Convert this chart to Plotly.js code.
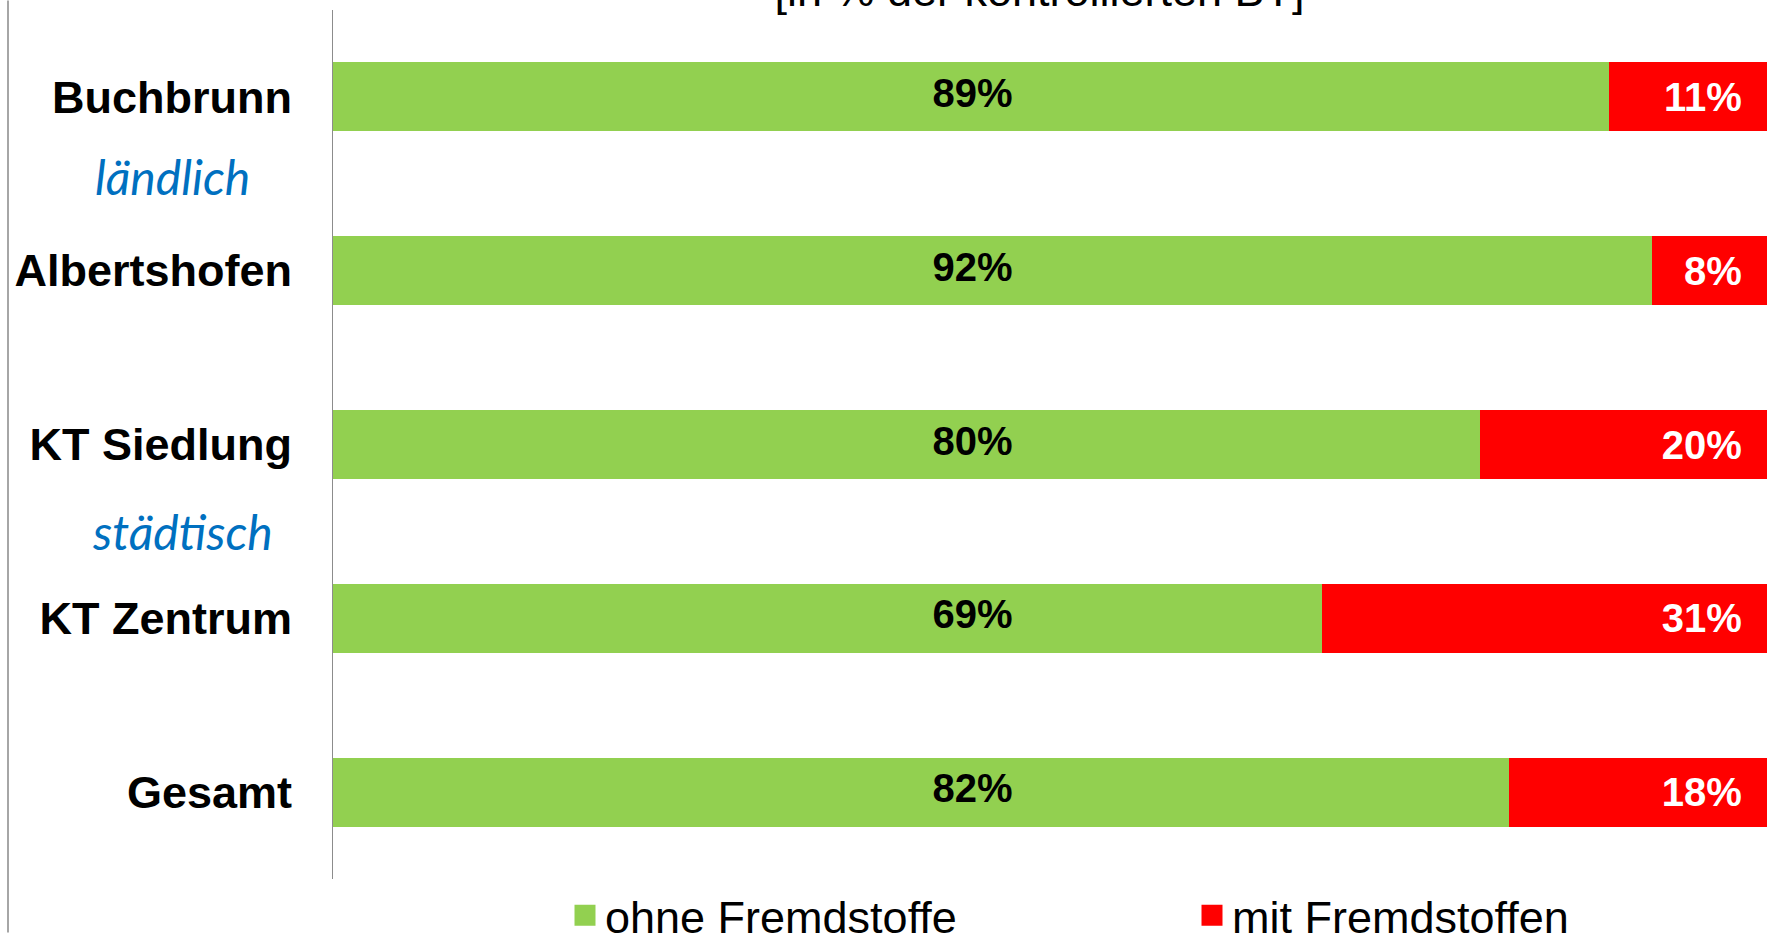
<!DOCTYPE html>
<html>
<head>
<meta charset="utf-8">
<script src="https://cdn.plot.ly/plotly-3.0.1.min.js"></script>
<style>html,body{margin:0;padding:0;background:#fff;}#chart{width:1767px;height:933px;}</style>
</head>
<body>
<div id="chart"></div>
<script>
// Data
const categories = ["Buchbrunn", "Albertshofen", "KT Siedlung", "KT Zentrum", "Gesamt"];
const ohneFremdstoffe = [89, 92, 80, 69, 82];
const mitFremdstoffen = [11, 8, 20, 31, 18];
const seriesNames = ["ohne Fremdstoffe", "mit Fremdstoffen"];
const groupLabels = ["ländlich", "städtisch"];
const titleText = "[in % der kontrollierten BT]";

const GREEN = "#92D050", RED = "#FF0000";
const ML = 333, MT = 9.5, MB = 53.5, W = 1767, H = 933;
const PW = W - ML, PH = H - MT - MB;
const px2x = p => (p - ML) / PW;
const px2y = p => (H - MB - p) / PH;
const GREEN_LABEL_X = 44.6; // label column position (axis units), as in the original layout
const labelFont = (c) => ({family: "Liberation Sans, Arial, sans-serif", size: 40, color: c, weight: "bold"});

const traces = [
  {
    type: "bar", orientation: "h", name: seriesNames[0],
    y: categories, x: ohneFremdstoffe,
    marker: {color: GREEN},
    showlegend: false, hoverinfo: "skip"
  },
  {
    type: "bar", orientation: "h", name: seriesNames[1],
    y: categories, x: mitFremdstoffen,
    marker: {color: RED},
    texttemplate: "%{x}%\u00a0\u00a0", textposition: "inside", insidetextanchor: "end",
    insidetextfont: labelFont("#fff"),
    showlegend: false, hoverinfo: "skip"
  },
  {
    type: "scatter", mode: "text", name: seriesNames[0] + " labels",
    y: categories, x: categories.map(() => GREEN_LABEL_X),
    text: ohneFremdstoffe.map(v => v + "%"), textposition: "middle center",
    textfont: labelFont("#000"), showlegend: false, hoverinfo: "skip", cliponaxis: false
  },
  {
    type: "scatter", mode: "markers", name: seriesNames[0], x: [null], y: [null],
    marker: {symbol: "square", size: 16, color: GREEN, line: {color: GREEN, width: 5}},
    legend: "legend", showlegend: true, hoverinfo: "skip"
  },
  {
    type: "scatter", mode: "markers", name: seriesNames[1], x: [null], y: [null],
    marker: {symbol: "square", size: 16, color: RED, line: {color: RED, width: 5}},
    legend: "legend2", showlegend: true, hoverinfo: "skip"
  }
];

const legendFont = {family: "Liberation Sans, Arial, sans-serif", size: 45, color: "#000"};
const layout = {
  width: W, height: H,
  margin: {l: ML, r: 0, t: MT, b: MB, pad: 0, autoexpand: false},
  paper_bgcolor: "#fff", plot_bgcolor: "#fff",
  barmode: "stack", bargap: 0.603,
  title: {
    text: titleText,
    font: {family: "Liberation Sans, Arial, sans-serif", size: 45, color: "#000"},
    xref: "paper", x: px2x(1039.5), xanchor: "center",
    yref: "container", y: 1 - 6 / H, yanchor: "bottom"
  },
  xaxis: {range: [0, 100], visible: false, fixedrange: true},
  yaxis: {
    type: "category", autorange: "reversed",
    showline: true, linecolor: "#8c8c8c", linewidth: 1,
    showgrid: false, zeroline: false, ticks: "",
    ticklabelstandoff: 31,
    tickfont: {family: "Liberation Sans, Arial, sans-serif", size: 45, color: "#000", weight: "bold"},
    fixedrange: true
  },
  legend: {
    orientation: "h", x: px2x(565), xanchor: "left", y: px2y(916), yanchor: "middle",
    font: legendFont, bgcolor: "rgba(0,0,0,0)", borderwidth: 0
  },
  legend2: {
    orientation: "h", x: px2x(1192), xanchor: "left", y: px2y(916), yanchor: "middle",
    font: legendFont, bgcolor: "rgba(0,0,0,0)", borderwidth: 0
  },
  annotations: groupLabels.map((t, i) => ({
    text: t, xref: "paper", x: px2x(i === 0 ? 93 : 90), xanchor: "left",
    yref: "y", y: 0.5 + 2 * i, yanchor: "middle", yshift: i === 0 ? 7 : 0,
    showarrow: false,
    font: {family: "Lato, 'Open Sans', sans-serif", size: 48, color: "#0070C0", style: "italic"}
  })),
  shapes: [{
    type: "line", xref: "paper", yref: "paper",
    x0: px2x(8), x1: px2x(8), y0: px2y(H), y1: px2y(0),
    line: {color: "#a6a6a6", width: 2}
  }]
};

Plotly.newPlot("chart", traces, layout, {displayModeBar: false, staticPlot: true});
</script>
</body>
</html>
